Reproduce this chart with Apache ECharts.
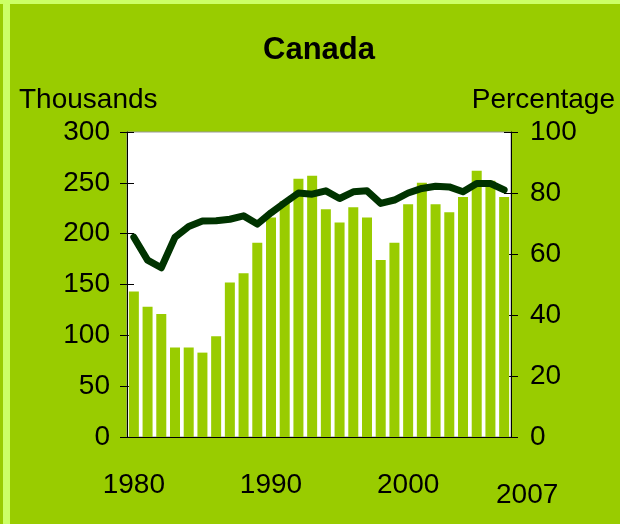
<!DOCTYPE html>
<html lang="en" style="height: 100%">
<head>
    <meta charset="utf-8">
</head>
<body style="height: 100%; margin: 0; background: #99cc00">
<div id="container" style="width: 620px; height: 524px"></div>

<script type="text/javascript" src="https://fastly.jsdelivr.net/npm/echarts@6/dist/echarts.min.js"></script>
<script type="text/javascript">
    // years on the category axis
    var years = [];
    for (var y = 1980; y <= 2007; y++) {
        years.push(String(y));
    }
    // bars, thousands (left axis)
    var thousands = [143, 128, 121, 88, 88, 83, 99, 152, 161, 191,
        216, 232, 254, 257, 224, 211, 226, 216, 174, 191,
        229, 250, 229, 221, 236, 262, 252, 236];
    // line, percentage (right axis)
    var percentage = [65.5, 58, 55.5, 65.5, 69, 70.8, 70.9, 71.4, 72.5, 69.8,
        73.5, 76.8, 80, 79.6, 80.7, 78.2, 80.4, 80.7, 76.6, 77.7,
        80, 81.5, 82.2, 82, 80.4, 83.1, 83.1, 81];
    var shownYears = ['1980', '1990', '2000', '2007'];

    var font = "'Liberation Sans', Arial, sans-serif";

    var dom = document.getElementById('container');
    var myChart = echarts.init(dom, null, {renderer: 'canvas'});
    var option = {
        backgroundColor: '#99cc00',
        animation: false,
        graphic: [
            {type: 'rect', shape: {x: 0, y: 0, width: 620, height: 4}, style: {fill: '#ccff66'}, silent: true},
            {type: 'rect', shape: {x: 3, y: 0, width: 7, height: 524}, style: {fill: '#ccff66'}, silent: true}
        ],
        title: [
            {
                text: 'Canada',
                left: 258,
                top: 30,
                textStyle: {fontFamily: font, fontSize: 31, fontWeight: 'bold', color: '#000'}
            },
            {
                text: 'Thousands',
                left: 14,
                top: 81,
                textStyle: {fontFamily: font, fontSize: 28, fontWeight: 'normal', color: '#000'}
            },
            {
                text: 'Percentage',
                right: 0,
                top: 81,
                textStyle: {fontFamily: font, fontSize: 28, fontWeight: 'normal', color: '#000'}
            }
        ],
        grid: {
            left: 127,
            right: 109,
            top: 132,
            bottom: 87,
            show: true,
            backgroundColor: '#ffffff',
            borderColor: '#999',
            borderWidth: 1
        },
        xAxis: {
            type: 'category',
            data: years,
            axisLine: {lineStyle: {color: '#000', width: 1}},
            axisTick: {interval: 0, length: 8, lineStyle: {color: '#000'}},
            axisLabel: {
                interval: function (i, v) {
                    return shownYears.indexOf(v) >= 0;
                },
                formatter: function (v) {
                    return v === '2007' ? '{last|' + v + '}' : v;
                },
                margin: 34,
                color: '#000',
                fontFamily: font,
                fontSize: 28,
                rich: {
                    last: {fontFamily: font, fontSize: 28, color: '#000', padding: [10, 0, 0, 46]}
                }
            }
        },
        yAxis: [
            {
                type: 'value',
                min: 0,
                max: 300,
                interval: 50,
                position: 'left',
                axisLine: {show: true, lineStyle: {color: '#000'}},
                axisTick: {show: true, length: 7, lineStyle: {color: '#000'}},
                splitLine: {show: false},
                axisLabel: {margin: 17, color: '#000', fontFamily: font, fontSize: 28}
            },
            {
                type: 'value',
                min: 0,
                max: 100,
                interval: 20,
                position: 'right',
                axisLine: {show: true, lineStyle: {color: '#000'}},
                axisTick: {show: true, length: 7, lineStyle: {color: '#000'}},
                splitLine: {show: false},
                axisLabel: {margin: 19, color: '#000', fontFamily: font, fontSize: 28}
            },
            {
                // inner half of the crossing ticks on the left
                type: 'value',
                min: 0,
                max: 300,
                interval: 50,
                position: 'left',
                axisLine: {show: false},
                axisTick: {show: true, inside: true, length: 7, lineStyle: {color: '#000'}},
                splitLine: {show: false},
                axisLabel: {show: false}
            },
            {
                type: 'value',
                min: 0,
                max: 100,
                interval: 20,
                position: 'right',
                axisLine: {show: false},
                axisTick: {show: true, inside: true, length: 7, lineStyle: {color: '#000'}},
                splitLine: {show: false},
                axisLabel: {show: false}
            }
        ],
        series: [
            {
                name: 'Thousands',
                type: 'bar',
                yAxisIndex: 0,
                barWidth: 10,
                itemStyle: {color: '#99cc00'},
                data: thousands
            },
            {
                name: 'Percentage',
                type: 'line',
                yAxisIndex: 1,
                symbol: 'none',
                lineStyle: {color: '#003300', width: 7, cap: 'round', join: 'round'},
                data: percentage,
                z: 5
            }
        ]
    };

    myChart.setOption(option);
    window.addEventListener('resize', myChart.resize);
</script>
</body>
</html>
